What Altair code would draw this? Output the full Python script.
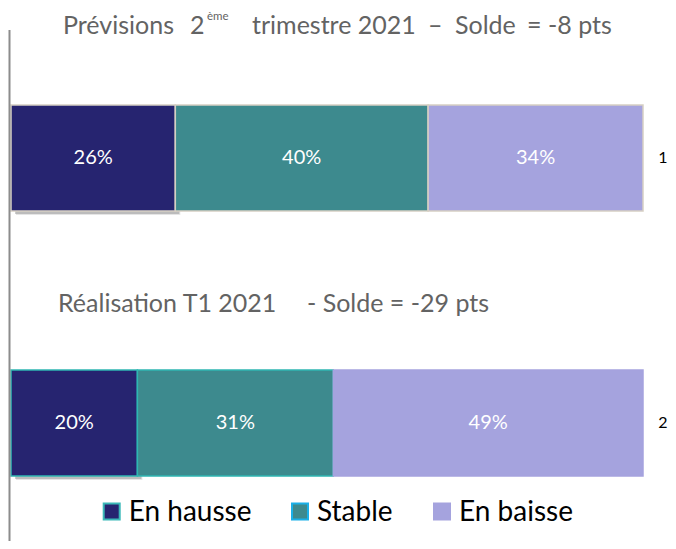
import altair as alt
import pandas as pd

# ---- data ----
rows = ["1", "2"]
categories = ["En hausse", "Stable", "En baisse"]
row1_values = [26, 40, 34]
row2_values = [20, 31, 49]
title1_parts = ["Prévisions", "2", "ème", "trimestre 2021", "–", "Solde", "=", "-8 pts"]
title2_parts = ["Réalisation T1 2021", "- Solde = -29 pts"]

# ---- styles ----
colors = ["#262470", "#3d8a8e", "#a5a3de"]
legend_strokes = ["#3ab8b8", "#1ab0e8", "#a5a3de"]
FONT = "Lato"
W, H = 632, 533

records = []
for r, vals in zip(rows, [row1_values, row2_values]):
    for i, (c, v) in enumerate(zip(categories, vals)):
        records.append({"row": r, "cat": c, "val": v, "ord": i, "label": f"{v}%"})
df = pd.DataFrame(records)

keys = [f"{r}|{c}" for r in rows for c in categories]
key_strokes = ["#d6cfc3"] * 3 + ["#2fb6b2", "#2fb6b2", "#a5a3de"]

x_scale = alt.Scale(domain=[0, 100], nice=False)
y_scale = alt.Scale(domain=rows, range=[97, 468], paddingInner=0.6, paddingOuter=0)

base = alt.Chart(df)

shadow1 = base.transform_filter("datum.ord == 0").mark_bar(
    color="#6f6f6f", opacity=0.18, xOffset=5, x2Offset=8, yOffset=4, y2Offset=10
).encode(
    x=alt.X("val:Q", stack="zero", scale=x_scale, axis=None),
    y=alt.Y("row:N", scale=y_scale, axis=None),
)
shadow2 = base.transform_filter("datum.ord == 0").mark_bar(
    color="#6f6f6f", opacity=0.35, xOffset=4, x2Offset=5, yOffset=3, y2Offset=6
).encode(
    x=alt.X("val:Q", stack="zero", scale=x_scale, axis=None),
    y=alt.Y("row:N", scale=y_scale, axis=None),
)

bars = base.transform_calculate(key="datum.row + '|' + datum.cat").mark_bar(
    strokeWidth=1.5
).encode(
    x=alt.X("val:Q", stack="zero", scale=x_scale, axis=None),
    y=alt.Y("row:N", scale=y_scale, axis=None),
    color=alt.Color("cat:N", scale=alt.Scale(domain=categories, range=colors), legend=None),
    stroke=alt.Stroke("key:N", scale=alt.Scale(domain=keys, range=key_strokes), legend=None),
    order=alt.Order("ord:Q"),
)

labels = base.transform_stack(
    stack="val", groupby=["row"], as_=["x0", "x1"], sort=[alt.SortField("ord")]
).transform_calculate(mid="(datum.x0 + datum.x1) / 2").mark_text(
    color="white", fontSize=20, font=FONT
).encode(
    x=alt.X("mid:Q", scale=x_scale, axis=None),
    y=alt.Y("row:N", scale=y_scale, axis=None),
    text="label:N",
)

row_labels = alt.Chart(pd.DataFrame({"row": rows})).mark_text(
    fontSize=16, color="black", font=FONT
).encode(
    x=alt.value(652),
    y=alt.Y("row:N", scale=y_scale, axis=None),
    text="row:N",
)

vline = alt.Chart(pd.DataFrame({"a": [0]})).mark_rule(color="#8c8c8c", strokeWidth=2).encode(
    x=alt.value(-1.5), y=alt.value(22), y2=alt.value(H)
)

# (x, baseline y, font size) in plot pixels
title1_pos = [(52, 26, 25), (179, 26, 25), (196, 12, 11.5), (241, 26, 25),
              (417, 26, 25), (444, 26, 25), (516, 26, 25), (537, 26, 25)]
title2_pos = [(47, 304, 25), (296, 304, 25)]
title_layers = []
for txt, (tx, ty, fs) in list(zip(title1_parts, title1_pos)) + list(zip(title2_parts, title2_pos)):
    title_layers.append(
        alt.Chart(pd.DataFrame({"t": [txt]})).mark_text(
            align="left", baseline="alphabetic", fontSize=fs, color="#636363",
            font=FONT
        ).encode(x=alt.value(tx), y=alt.value(ty), text="t:N")
    )

legend_x = [100.7, 289, 431]
legend_y = 503.5
legend_layers = []
leg_df = pd.DataFrame({"cat": categories})
for i, c in enumerate(categories):
    sub = alt.Chart(leg_df).transform_filter(alt.datum.cat == c)
    legend_layers.append(
        sub.mark_square(size=256, fill=colors[i], stroke=legend_strokes[i],
                        strokeWidth=2, opacity=1).encode(
            x=alt.value(legend_x[i]), y=alt.value(legend_y))
    )
    legend_layers.append(
        sub.mark_text(align="left", baseline="middle", fontSize=28, color="black",
                      font=FONT).encode(
            x=alt.value(legend_x[i] + 17), y=alt.value(legend_y + 1), text="cat:N")
    )

chart = alt.layer(
    shadow1, shadow2, bars, labels, row_labels, vline, *title_layers, *legend_layers
).properties(
    width=W, height=H,
    autosize=alt.AutoSizeParams(type="none"),
    padding={"left": 3, "top": 0, "right": 25, "bottom": 0},
).configure(background="white").configure_view(stroke=None)

chart.save("out.html", embed_options={"renderer": "svg", "actions": False})
